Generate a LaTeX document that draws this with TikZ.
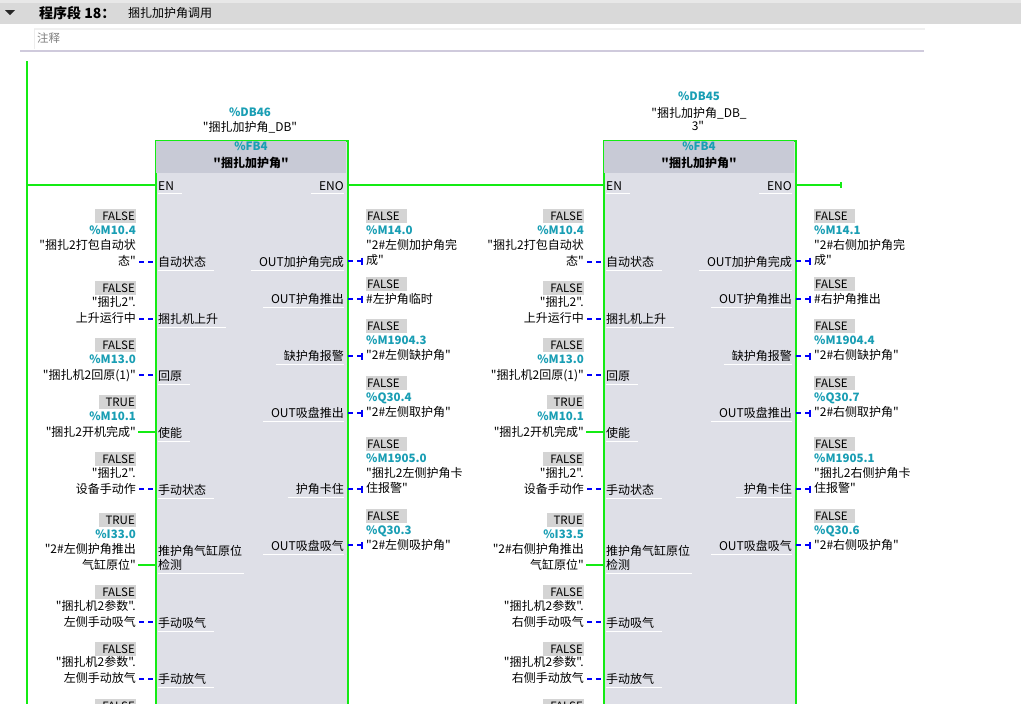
\documentclass[tikz,border=0pt]{standalone}
\usepackage{fontspec}
\setmainfont{Noto Sans CJK SC}[Ligatures=TeXOff]
\usetikzlibrary{calc}
\definecolor{wgreen}{RGB}{20,235,20}
\definecolor{wblue}{RGB}{0,0,250}
\definecolor{tealc}{RGB}{25,158,180}
\definecolor{headc}{RGB}{200,202,214}
\definecolor{bodyc}{RGB}{222,223,231}
\definecolor{valc}{RGB}{212,212,212}
\definecolor{bandc}{RGB}{217,217,217}
\definecolor{stripc}{RGB}{232,232,232}
\definecolor{lavc}{RGB}{207,202,220}
\tikzset{
  lab/.style={inner sep=0pt, font=\fontsize{12}{13}\selectfont},
  addr/.style={inner sep=0pt, font=\fontsize{11.5}{13}\selectfont\bfseries, text=tealc},
  valbox/.style={fill=valc, inner xsep=1pt, inner ysep=0pt, minimum height=14pt, font=\fontsize{11.5}{13}\selectfont},
  fbbox/.style={draw=wgreen, line width=2pt, fill=bodyc},
  gwire/.style={draw=wgreen, line width=2pt},
  inF/.style={draw=wblue, line width=2pt, dash pattern=on 5pt off 4pt},
  outF/.style={draw=wblue, line width=2pt, dash pattern=on 5pt off 4pt},
  tickst/.style={draw=wblue, line width=1.8pt},
  uline/.style={draw=white, line width=1.2pt},
}
\newcommand{\valL}[4]{\node[valbox, anchor=east] (#1) at (#2,#3) {\hspace*{6pt}#4};}
\newcommand{\valR}[4]{\node[valbox, anchor=west] (#1) at (#2,#3) {#4\hspace*{6pt}};}
\newcommand{\tR}[4]{\node[lab, anchor=base east] (#1) at (#2,#3+4.5) {#4};}
\newcommand{\tL}[4]{\node[lab, anchor=base west] (#1) at (#2,#3+4.5) {#4};}
\newcommand{\aR}[4]{\node[addr, anchor=base east] (#1) at (#2,#3+4.3) {#4};}
\newcommand{\aL}[4]{\node[addr, anchor=base west] (#1) at (#2,#3+4.3) {#4};}
\newcommand{\fbbody}[8]{%
  \node[fbbox, anchor=north west, minimum width=192pt, minimum height=600pt] (B) at (155,140) {};
  \fill[headc] (156,141) rectangle (346,173);
  \node[addr, anchor=base] (fbn) at (251,146+4.3) {\%FB4};
  \node[lab, font=\fontsize{12}{13}\selectfont\bfseries, anchor=base] (fbt) at (251,163+4.5) {"捆扎加护角"};
  \node[lab, anchor=base west] (en) at (158,186+4.5) {EN};
  \node[lab, anchor=base east] (eno) at (344,186+4.5) {ENO};
  \coordinate (ein) at (155,185);
  \coordinate (eout) at (347,185);
  \node[lab, anchor=base west] (p1) at (158,262+4.5) {自动状态};
  \node[lab, anchor=base west] (p2) at (158,319+4.5) {捆扎机上升};
  \node[lab, anchor=base west] (p3) at (158,376+4.5) {回原};
  \node[lab, anchor=base west] (p4) at (158,433+4.5) {使能};
  \node[lab, anchor=base west] (p5) at (158,490+4.5) {手动状态};
  \node[lab, anchor=base west] (p6a) at (158,551+4.5) {推护角气缸原位};
  \node[lab, anchor=base west] (p6) at (158,565+4.5) {检测};
  \node[lab, anchor=base west] (p7) at (158,623+4.5) {手动吸气};
  \node[lab, anchor=base west] (p8) at (158,679+4.5) {手动放气};
  \foreach \n in {en,p1,p2,p3,p4,p5,p7,p8} {\draw[uline] ([yshift=-2.5pt]\n.south west) -- ([yshift=-2.5pt,xshift=8pt]\n.south east);}
  \draw[uline] ([yshift=-2.5pt]p6.south west) -- ++(86,0);
  \node[lab, anchor=base east] (q1) at (344,262+4.5) {OUT加护角完成};
  \node[lab, anchor=base east] (q2) at (344,299+4.5) {OUT护角推出};
  \node[lab, anchor=base east] (q3) at (344,356+4.5) {缺护角报警};
  \node[lab, anchor=base east] (q4) at (344,413+4.5) {OUT吸盘推出};
  \node[lab, anchor=base east] (q5) at (344,489+4.5) {护角卡住};
  \node[lab, anchor=base east] (q6) at (344,546+4.5) {OUT吸盘吸气};
  \foreach \n in {eno,q1,q2,q3,q4,q5,q6} {\draw[uline] ([yshift=-2.5pt,xshift=-8pt]\n.south west) -- ([yshift=-2.5pt]\n.south east);}
  % input pins
  \coordinate (i1) at (155,262);
  \coordinate (i2) at (155,319);
  \coordinate (i3) at (155,375);
  \coordinate (i4) at (155,432);
  \coordinate (i5) at (155,489);
  \coordinate (i6) at (155,565);
  \coordinate (i7) at (155,622);
  \coordinate (i8) at (155,679);
  \foreach \n in {i1,i2,i3,i5,i7,i8} {\draw[inF] ([xshift=-16pt]\n) -- (\n);}
  \foreach \n in {i4,i6} {\draw[gwire] ([xshift=-17pt]\n) -- (\n);}
  % output pins
  \coordinate (o1) at (347,261);
  \coordinate (o2) at (347,299);
  \coordinate (o3) at (347,356);
  \coordinate (o4) at (347,413);
  \coordinate (o5) at (347,489);
  \coordinate (o6) at (347,545);
  \foreach \n in {o1,o2,o3,o4,o5,o6} {\draw[outF] ([xshift=1pt]\n) -- ([xshift=15pt]\n);
    \draw[tickst] ([xshift=15pt,yshift=3.5pt]\n) -- ([xshift=15pt,yshift=-3.5pt]\n);}
  % input annotations
  \valL{v1}{136}{216}{FALSE}
  \aR{a1}{136}{230}{\%M10.4}
  \tR{t1a}{136}{245}{"捆扎2打包自动状}
  \tR{t1b}{136}{261}{态"}
  \valL{v2}{136}{288}{FALSE}
  \tR{t2a}{136}{302}{"捆扎2".}
  \tR{t2b}{136}{318}{上升运行中}
  \valL{v3}{136}{345}{FALSE}
  \aR{a3}{136}{359}{\%M13.0}
  \tR{t3}{136}{375}{"捆扎机2回原(1)"}
  \valL{v4}{136}{402}{TRUE}
  \aR{a4}{136}{416}{\%M10.1}
  \tR{t4}{136}{432}{"捆扎2开机完成"}
  \valL{v5}{136}{459}{FALSE}
  \tR{t5a}{136}{473}{"捆扎2".}
  \tR{t5b}{136}{489}{设备手动作}
  \valL{v6}{136}{520}{TRUE}
  \aR{a6}{136}{534}{\%I#2}
  \tR{t6a}{136}{549}{"2\##1护角推出}
  \tR{t6b}{136}{565}{气缸原位"}
  \valL{v7}{136}{592}{FALSE}
  \tR{t7a}{136}{606}{"捆扎机2参数".}
  \tR{t7b}{136}{622}{#1手动吸气}
  \valL{v8}{136}{649}{FALSE}
  \tR{t8a}{136}{662}{"捆扎机2参数".}
  \tR{t8b}{136}{678}{#1手动放气}
  \valL{v9}{136}{706}{FALSE}
  % output annotations
  \valR{w1}{366}{216}{FALSE}
  \aL{b1}{366}{230}{\%#3}
  \tL{u1a}{366}{245}{"2\##1加护角完}
  \tL{u1b}{366}{260}{成"}
  \valR{w2}{366}{284}{FALSE}
  \tL{u2}{366}{299}{#4}
  \valR{w3}{366}{326}{FALSE}
  \aL{b3}{366}{340}{\%#5}
  \tL{u3}{366}{355}{"2\##1缺护角"}
  \valR{w4}{366}{383}{FALSE}
  \aL{b4}{366}{397}{\%#6}
  \tL{u4}{366}{412}{"2\##1取护角"}
  \valR{w5}{366}{444}{FALSE}
  \aL{b5}{366}{458}{\%#7}
  \tL{u5a}{366}{473}{"捆扎2#1护角卡}
  \tL{u5b}{366}{488}{住报警"}
  \valR{w6}{366}{516}{FALSE}
  \aL{b6}{366}{530}{\%#8}
  \tL{u6}{366}{545}{"2\##1吸护角"}
}
\begin{document}
\begin{tikzpicture}[x=1pt,y=-1pt]
\clip (0,0) rectangle (1021,704);
\fill[white] (0,0) rectangle (1021,704);
% header band
\fill[stripc] (0,0) rectangle (1021,3);
\fill[bandc] (0,3) rectangle (1021,24);
\fill[black!85] (5,10) -- (15,10) -- (10,15) -- cycle;
\node[anchor=base west, inner sep=0pt, font=\fontsize{14}{16}\selectfont\bfseries] (segt) at (39,13+5) {程序段 18：};
\node[anchor=base west, inner sep=0pt, font=\fontsize{12}{14}\selectfont] (segn) at (128,13+4.5) {捆扎加护角调用};
% comment
\draw[gray!12, line width=1.2pt] (34,29) -- (925,29);
\draw[gray!15, line width=1pt] (34,29) -- (34,49);
\node[anchor=base west, inner sep=0pt, font=\fontsize{11.5}{13}\selectfont, text=black!50] (cmt) at (37,38+4.5) {注释};
\draw[lavc, line width=1.3pt] (20,51) -- (924,51);
% power rail
\coordinate (railtop) at (27,61);
\coordinate (railbot) at (27,704);
\coordinate (railen) at (27,185);
\draw[gwire] (railtop) -- (railbot);
% block titles
\node[addr, anchor=base] (db1) at (250,112+4.3) {\%DB46};
\node[lab, anchor=base] (db1n) at (250,127+4.5) {"捆扎加护角\_DB"};
\node[addr, anchor=base] (db2) at (699,96+4.3) {\%DB45};
\node[lab, anchor=base] (db2n) at (699,113+4.5) {"捆扎加护角\_DB\_};
\node[lab, anchor=base] (db2m) at (698,126+4.5) {3"};
% blocks
\begin{scope}[name prefix=b1-]
\fbbody{左侧}{33.0}{M14.0}{\#左护角临时}{M1904.3}{Q30.4}{M1905.0}{Q30.3}
\end{scope}
\begin{scope}[xshift=448pt, name prefix=b2-]
\fbbody{右侧}{33.5}{M14.1}{\#右护角推出}{M1904.4}{Q30.7}{M1905.1}{Q30.6}
\end{scope}
% EN/ENO chain
\coordinate (tail) at (841,185);
\draw[gwire] (railen) -- (b1-ein);
\draw[gwire] (b1-eout) -- (b2-ein);
\draw[gwire] (b2-eout) -- (tail);
\draw[gwire] ([yshift=3pt]tail) -- ([yshift=-3pt]tail);
\end{tikzpicture}
\end{document}
